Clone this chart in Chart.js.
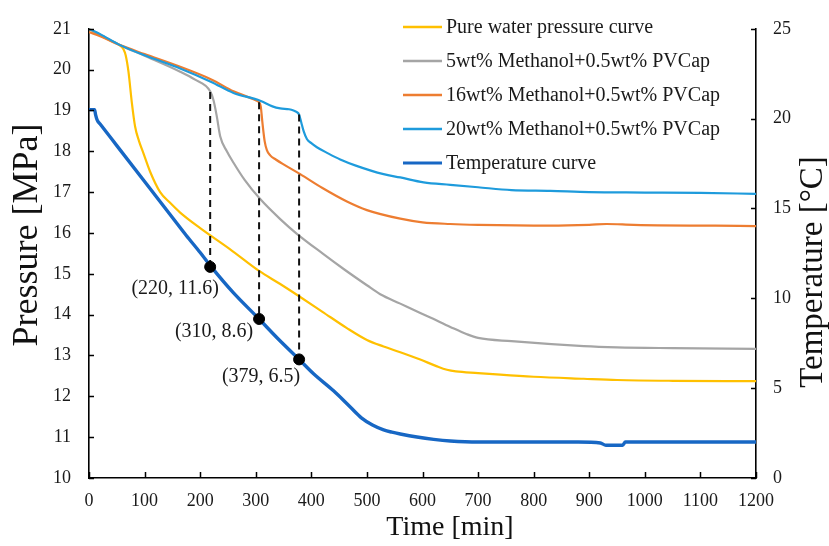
<!DOCTYPE html>
<html><head><meta charset="utf-8">
<script src="https://cdn.jsdelivr.net/npm/chart.js@4/dist/chart.umd.min.js"></script>
<style>html,body{margin:0;padding:0;background:#fff;}#wrap{width:829px;height:546px;}</style>
</head><body><div id="wrap"><canvas id="c" width="829" height="546"></canvas></div>
<script>
// ---- data ----
const seriesNames = ['Pure water pressure curve','5wt% Methanol+0.5wt% PVCap','16wt% Methanol+0.5wt% PVCap','20wt% Methanol+0.5wt% PVCap','Temperature curve'];

const waterTime = [0,20,40,55,62,66,71,77,83,90,98,110,128,145,164,200,254,306,344,378,420,464,500,530,560,596,625,644,660,700,740,800,890,950,1050,1200];
const waterP    = [21.0,20.84,20.7,20.6,20.5,20.35,19.95,19.2,18.6,18.25,17.95,17.5,17.0,16.75,16.5,16.12,15.6,15.07,14.75,14.45,14.07,13.67,13.38,13.22,13.08,12.9,12.74,12.65,12.61,12.57,12.53,12.48,12.43,12.4,12.38,12.37];

const m5Time = [0,20,56,100,164,190,218,224,230,236,248,260,280,308,344,374,420,460,500,524,560,596,614,650,680,700,760,890,950,1050,1200];
const m5P    = [21.0,20.86,20.6,20.34,19.95,19.76,19.47,19.25,18.85,18.37,18.0,17.72,17.3,16.83,16.34,15.98,15.5,15.1,14.72,14.5,14.27,14.04,13.93,13.7,13.52,13.43,13.35,13.23,13.2,13.18,13.16];

const m16Time = [0,20,56,100,164,220,260,300,306,309,312,316,320,326,336,350,380,420,464,500,560,600,650,700,830,900,931,980,1200];
const m16P    = [20.92,20.82,20.6,20.38,20.07,19.76,19.47,19.25,19.2,19.1,18.7,18.25,18.03,17.9,17.8,17.68,17.44,17.1,16.77,16.56,16.35,16.26,16.22,16.2,16.18,16.2,16.22,16.2,16.17];

const m20Time = [0,20,56,100,164,220,260,308,330,344,360,368,374,378,382,386,392,400,410,430,452,480,530,560,602,650,700,760,830,900,1000,1100,1200];
const m20P    = [21.0,20.87,20.6,20.35,20.03,19.7,19.43,19.24,19.1,19.05,19.03,19.0,18.96,18.9,18.7,18.5,18.3,18.2,18.1,17.95,17.8,17.65,17.44,17.36,17.24,17.18,17.12,17.05,17.03,17.0,16.99,16.98,16.96];

const tempTime = [0,10,12,15,20,50,100,150,175,200,220,260,306,340,378,404,440,470,490,510,530,545,560,590,620,650,700,800,880,920,930,960,965,1200];
const tempC    = [20.5,20.5,20.2,19.9,19.7,18.5,16.5,14.5,13.5,12.55,11.75,10.3,8.85,7.75,6.6,5.8,4.85,3.95,3.35,2.95,2.68,2.55,2.45,2.28,2.15,2.06,2.0,2.0,2.0,1.95,1.82,1.82,2.0,2.0];

// onset points marked on the temperature curve
const onsetTime = [218,306,378];
const onsetTemp = [11.75,8.85,6.6];
const onsetTopP = [19.45,19.2,18.9];
const onsetLabels = ['(220, 11.6)','(310, 8.6)','(379, 6.5)'];

const xTicks = [0,100,200,300,400,500,600,700,800,900,1000,1100,1200];
const pTicks = [10,11,12,13,14,15,16,17,18,19,20,21];
const tTicks = [0,5,10,15,20,25];

// ---- styles ----
const colors = ['#FFC000','#A5A5A5','#ED7D31','#1E9BDC','#1767C4'];
const SERIF = '"Liberation Serif","Times New Roman",serif';

const pts = (xs, ys) => xs.map((x,i)=>({x:x, y:ys[i]}));

const lineDs = (label, data, color, axis, width, order) => ({
  label, data: data, borderColor: color, backgroundColor: color, borderWidth: width,
  pointRadius: 0, fill: false, cubicInterpolationMode: 'monotone', yAxisID: axis, order: order
});

const datasets = [
  lineDs(seriesNames[0], pts(waterTime, waterP), colors[0], 'yP', 2.2, 5),
  lineDs(seriesNames[1], pts(m5Time, m5P), colors[1], 'yP', 2.2, 4),
  lineDs(seriesNames[2], pts(m16Time, m16P), colors[2], 'yP', 2.2, 3),
  lineDs(seriesNames[3], pts(m20Time, m20P), colors[3], 'yP', 2.2, 2),
  lineDs(seriesNames[4], pts(tempTime, tempC), colors[4], 'yT', 3.4, 1),
  { label: 'onset', data: pts(onsetTime, onsetTemp), yAxisID: 'yT', showLine: false,
    pointRadius: 5.5, pointBackgroundColor: '#000', pointBorderColor: '#000', order: 0 }
];
const DOT_INDEX = 5;

const decor = {
  id: 'decor',
  beforeDatasetDraw(chart, args) {
    if (args.index !== DOT_INDEX) return;
    const ctx = chart.ctx, x = chart.scales.x, yP = chart.scales.yP, yT = chart.scales.yT;
    ctx.save();
    ctx.strokeStyle = '#111'; ctx.lineWidth = 2; ctx.setLineDash([7,5]);
    onsetTime.forEach((t,i) => {
      const px = x.getPixelForValue(t);
      ctx.beginPath();
      ctx.moveTo(px, yP.getPixelForValue(onsetTopP[i]));
      ctx.lineTo(px, yT.getPixelForValue(onsetTemp[i]));
      ctx.stroke();
    });
    ctx.restore();
  },
  afterDraw(chart) {
    const ctx = chart.ctx, a = chart.chartArea;
    const x = chart.scales.x, yP = chart.scales.yP, yT = chart.scales.yT;
    ctx.save();
    // inward tick marks
    ctx.strokeStyle = '#000'; ctx.lineWidth = 1.5; ctx.setLineDash([]);
    ctx.beginPath();
    xTicks.forEach(v => { const p = Math.round(x.getPixelForValue(v)) + 0.5; ctx.moveTo(p, a.bottom); ctx.lineTo(p, a.bottom - 6); });
    pTicks.forEach(v => { const p = Math.round(yP.getPixelForValue(v)) + 0.5; ctx.moveTo(a.left, p); ctx.lineTo(a.left + 5, p); });
    tTicks.forEach(v => { const p = Math.round(yT.getPixelForValue(v)) + 0.5; ctx.moveTo(a.right, p); ctx.lineTo(a.right - 5, p); });
    ctx.stroke();

    // onset labels
    ctx.fillStyle = '#1a1a1a';
    ctx.font = '20px ' + SERIF;
    ctx.textAlign = 'center'; ctx.textBaseline = 'middle';
    const offs = [[-35,22],[-45,13],[-38,17]];
    onsetTime.forEach((t,i) => {
      const px = x.getPixelForValue(t), py = yT.getPixelForValue(onsetTemp[i]);
      ctx.fillText(onsetLabels[i], px + offs[i][0], py + offs[i][1]);
    });

    // legend
    ctx.font = '20px ' + SERIF;
    ctx.textAlign = 'left'; ctx.textBaseline = 'middle';
    seriesNames.forEach((name, i) => {
      const yy = 27 + i * 34;
      ctx.strokeStyle = colors[i]; ctx.lineWidth = (i === 4) ? 3 : 2.5;
      ctx.beginPath(); ctx.moveTo(403, yy); ctx.lineTo(442, yy); ctx.stroke();
      ctx.fillStyle = '#1a1a1a';
      ctx.fillText(name, 446, yy + 1);
    });

    // axis titles
    ctx.fillStyle = '#111';
    ctx.textAlign = 'center'; ctx.textBaseline = 'middle';
    ctx.font = '28px ' + SERIF;
    ctx.fillText('Time [min]', 450, 528);
    ctx.save();
    ctx.translate(28, 235); ctx.rotate(-Math.PI/2);
    ctx.font = '36px ' + SERIF;
    ctx.fillText('Pressure [MPa]', 0, 0);
    ctx.restore();
    ctx.save();
    ctx.translate(813, 272); ctx.rotate(-Math.PI/2);
    ctx.font = '33px ' + SERIF;
    ctx.fillText('Temperature [°C]', 0, 0);
    ctx.restore();
    ctx.restore();
  }
};

const tickFont = { family: SERIF, size: 18 };
const axisBorder = { display: true, color: '#000', width: 1.6 };
const plain = v => String(v);

new Chart(document.getElementById('c'), {
  type: 'line',
  data: { datasets },
  options: {
    responsive: false, animation: false, devicePixelRatio: 1,
    layout: { autoPadding: false, padding: { top: 25, left: 0, right: 0, bottom: 0 } },
    plugins: { legend: { display: false }, tooltip: { enabled: false } },
    scales: {
      x: { type: 'linear', min: 0, max: 1200,
        afterBuildTicks: s => { s.ticks = xTicks.map(v => ({ value: v })); },
        afterFit: s => { s.height = 68; },
        grid: { display: false, drawTicks: false }, border: axisBorder,
        ticks: { font: tickFont, color: '#1a1a1a', padding: 12, maxRotation: 0, autoSkip: false, callback: plain } },
      yP: { type: 'linear', position: 'left', min: 10, max: 21,
        afterBuildTicks: s => { s.ticks = pTicks.map(v => ({ value: v })); },
        afterFit: s => { s.width = 89; },
        grid: { display: false, drawTicks: false }, border: axisBorder,
        ticks: { font: tickFont, color: '#1a1a1a', padding: 18, autoSkip: false, callback: plain } },
      yT: { type: 'linear', position: 'right', min: 0, max: 25,
        afterBuildTicks: s => { s.ticks = tTicks.map(v => ({ value: v })); },
        afterFit: s => { s.width = 73; },
        grid: { display: false, drawTicks: false }, border: axisBorder,
        ticks: { font: tickFont, color: '#1a1a1a', padding: 17, autoSkip: false, callback: plain } }
    }
  },
  plugins: [decor]
});
</script>
</body></html>
